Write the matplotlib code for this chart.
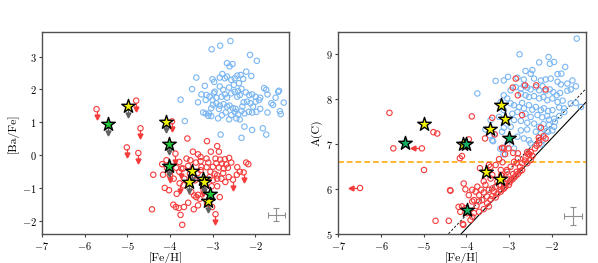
import numpy as np
import matplotlib
matplotlib.use('Agg')
import matplotlib.pyplot as plt

plt.rcParams['font.family'] = 'serif'
plt.rcParams['font.serif'] = ['cmr10', 'DejaVu Serif']
plt.rcParams['mathtext.fontset'] = 'cm'
plt.rcParams['axes.formatter.use_mathtext'] = True

# ---------------- left panel: [Ba/Fe] vs [Fe/H] ----------------
ba_blue_fe = [-2.58, -3.02, -2.82, -2.12, -1.96, -2.66, -2.60, -2.53, -3.38, -3.18, -3.48, -3.00, -2.96, -2.83,
              -2.77, -2.71, -2.66, -2.56, -2.48, -2.42, -2.34, -2.28, -2.21, -2.09, -2.38, -2.50, -2.61, -2.75,
              -2.83, -2.95, -3.14, -3.26, -3.07, -3.00, -2.91, -2.79, -2.71, -2.66, -2.56, -2.48, -2.40, -2.32,
              -2.22, -2.14, -2.07, -1.99, -1.88, -1.79, -1.74, -1.71, -1.52, -1.46, -1.33, -1.62, -1.58, -1.42,
              -1.40, -1.71, -1.88, -1.97, -2.07, -2.15, -2.25, -2.32, -2.40, -2.48, -2.52, -2.60, -2.66, -2.74,
              -2.83, -2.91, -2.99, -3.03, -3.08, -3.16, -3.10, -3.03, -2.78, -2.61, -2.56, -2.44, -2.36, -2.25,
              -2.07, -1.82, -1.74, -2.32, -2.81, -3.65, -3.75, -3.34, -2.42, -2.27, -2.19, -2.11, -1.99, -1.91,
              -2.30, -2.46, -2.69, -2.85, -3.16, -2.97, -2.36, -2.05, -2.87, -3.22, -1.44]
ba_blue = [3.47, 3.22, 3.33, 3.05, 2.87, 2.80, 2.70, 2.77, 2.36, 2.11, 2.01, 2.31, 2.23, 2.36,
           2.47, 2.34, 2.39, 2.29, 2.34, 2.42, 2.44, 2.32, 2.54, 2.41, 2.19, 2.14, 2.06, 1.99,
           2.09, 1.93, 1.83, 1.85, 1.78, 1.68, 1.75, 1.78, 1.85, 1.75, 1.88, 1.93, 1.95, 2.02,
           1.91, 1.83, 1.85, 1.78, 1.75, 2.04, 1.99, 1.85, 1.75, 1.93, 1.60, 1.58, 1.53, 1.34,
           1.25, 1.30, 1.41, 1.32, 1.30, 1.32, 1.27, 1.35, 1.24, 1.32, 1.43, 1.51, 1.48, 1.55,
           1.51, 1.58, 1.53, 1.43, 1.27, 1.27, 1.20, 1.19, 1.22, 1.09, 1.22, 1.12, 1.09, 0.87,
           0.77, 0.82, 0.63, 0.53, 0.63, 1.04, 1.69, 1.61, 1.78, 1.61, 1.63, 1.58, 1.63, 1.68,
           1.48, 1.41, 1.30, 1.41, 1.68, 1.88, 1.83, 1.48, 1.12, 1.30, 1.96]

ba_red_fe = [-3.59, -3.13, -2.89, -3.46, -3.34, -3.28, -3.04, -2.85, -3.14, -2.93, -2.82, -2.71, -2.61, -3.39,
             -3.28, -3.10, -2.91, -2.78, -2.68, -2.56, -4.39, -4.18, -4.07, -3.85, -3.57, -3.14, -2.99, -2.85,
             -2.74, -2.64, -2.42, -2.21, -2.16, -4.16, -4.00, -3.91, -3.66, -3.35, -3.28, -3.05, -2.95, -2.89,
             -2.75, -2.62, -2.43, -2.36, -3.68, -3.41, -2.99, -2.89, -2.79, -2.70, -4.12, -4.02, -3.84, -3.50,
             -3.43, -3.38, -3.34, -3.30, -3.02, -2.89, -2.83, -3.21, -3.92, -3.86, -3.79, -3.67, -3.57, -3.44,
             -3.75, -4.42, -3.71, -3.53, -3.69, -3.78, -3.26, -3.07, -3.18, -3.61, -3.78, -3.52, -4.08, -3.13,
             -3.34, -3.01]
ba_red = [0.51, 0.43, 0.28, 0.11, 0.03, -0.05, 0.11, 0.11, -0.10, -0.10, -0.13, -0.12, -0.08, -0.22,
          -0.18, -0.22, -0.24, -0.25, -0.28, -0.22, -0.59, -0.27, -0.38, -0.38, -0.32, -0.36, -0.35, -0.37,
          -0.40, -0.38, -0.36, -0.22, -0.27, -0.59, -0.61, -0.71, -0.71, -0.54, -0.45, -0.50, -0.56, -0.61,
          -0.54, -0.66, -0.59, -0.50, -0.91, -0.76, -0.76, -0.71, -0.71, -0.81, -0.99, -1.06, -1.17, -1.11,
          -1.22, -1.27, -1.20, -1.32, -0.94, -0.94, -1.27, -1.06, -1.50, -1.57, -1.60, -1.57, -1.44, -1.64,
          -1.81, -1.64, -2.11, -0.56, -0.40, -0.50, -0.35, -0.66, -0.81, -0.10, -0.20, -0.15, -0.15, -1.47,
          -1.52, -1.57]

# red upper limits on [Ba/Fe]
ba_lim_fe = [-5.72, -4.79, -4.69, -5.01, -4.74, -3.95, -3.87, -3.99, -3.73, -3.77, -2.93, -2.27, -2.52, -3.22]
ba_lim = [1.40, 1.66, 0.82, 0.24, 0.07, 1.03, 0.05, -0.50, -0.40, -0.85, -1.79, -0.52, -0.74, -0.92]

# stars (upper limits on Ba)
ba_star_y_fe = [-4.98, -4.10, -3.49, -3.56, -3.22, -3.21, -3.11]
ba_star_y = [1.49, 1.02, -0.48, -0.81, -0.71, -0.82, -1.40]
ba_star_g_fe = [-5.45, -4.02, -4.03, -3.05]
ba_star_g = [0.95, 0.35, -0.31, -1.16]

# ---------------- right panel: A(C) vs [Fe/H] ----------------
c_blue_fe = [-1.41, -2.75, -2.07, -2.29, -2.04, -1.94, -1.68, -1.86, -1.77, -3.02, -2.80, -2.61, -2.49, -2.45,
             -2.65, -2.41, -2.25, -2.14, -2.02, -1.86, -1.78, -1.63, -1.51, -1.43, -3.31, -3.12, -3.74, -3.12,
             -2.96, -2.84, -2.72, -2.65, -2.57, -2.49, -2.37, -2.29, -2.21, -2.14, -2.04, -1.96, -1.88, -1.80,
             -1.63, -1.55, -2.72, -2.61, -2.53, -2.41, -2.29, -2.19, -2.10, -1.98, -1.86, -1.74, -1.55, -1.43,
             -1.31, -2.96, -2.88, -2.76, -2.69, -2.65, -2.53, -2.45, -2.37, -2.25, -2.18, -2.08, -1.98, -1.82,
             -1.71, -3.12, -2.92, -2.80, -2.61, -2.49, -2.33, -2.22, -2.10, -2.06, -1.94, -1.82, -3.05, -2.88,
             -2.72, -2.57, -2.41, -2.29, -2.19, -2.06, -1.94, -1.98, -2.08, -2.25, -2.37, -2.72, -2.57, -2.96,
             -3.12, -3.39, -3.34, -3.16, -2.80, -2.65, -2.53, -2.49, -2.88, -3.04, -3.55, -2.24, -2.21, -3.43,
             -3.23, -3.19, -3.04, -1.70, -1.92, -2.11, -3.45, -3.37, -3.13, -3.20]
c_blue = [9.35, 9.00, 8.94, 8.82, 8.79, 8.83, 8.72, 8.56, 8.57, 8.50, 8.48, 8.63, 8.57, 8.65,
          8.44, 8.46, 8.42, 8.44, 8.46, 8.39, 8.33, 8.35, 8.42, 8.29, 8.41, 8.42, 8.13, 8.09,
          8.20, 8.27, 8.24, 8.31, 8.26, 8.22, 8.27, 8.20, 8.29, 8.18, 8.22, 8.16, 8.09, 8.14,
          8.19, 8.22, 8.13, 8.09, 8.05, 8.07, 8.02, 8.05, 7.98, 8.02, 7.94, 7.97, 7.91, 7.92,
          7.83, 7.91, 7.87, 7.83, 7.92, 7.80, 7.87, 7.77, 7.83, 7.76, 7.80, 7.74, 7.76, 7.82,
          7.80, 7.76, 7.68, 7.72, 7.68, 7.61, 7.65, 7.60, 7.63, 7.55, 7.57, 7.63, 7.55, 7.54,
          7.52, 7.48, 7.46, 7.39, 7.45, 7.43, 7.39, 7.31, 7.28, 7.24, 7.28, 7.31, 7.33, 7.39,
          7.37, 7.09, 7.23, 7.28, 7.17, 7.13, 7.09, 7.02, 6.91, 7.00, 7.33, 7.00, 7.09, 7.54,
          7.61, 7.94, 8.02, 7.72, 7.50, 7.30, 7.20, 7.07, 6.78, 6.90]

c_red_fe = [-5.80, -5.71, -4.77, -4.68, -4.99, -4.38, -4.72, -4.41, -4.18, -4.06, -4.02, -4.08,
            -3.94, -3.56, -4.10, -4.15, -3.12, -3.01, -3.09, -2.90, -2.79, -3.23, -3.15, -2.74, -2.69,
            -2.55, -2.49, -2.35, -2.29, -2.14, -2.19, -3.68, -3.31, -3.43, -3.47, -3.39, -3.59, -3.19,
            -3.05, -2.96, -2.88, -2.82, -2.79, -2.63, -2.57, -2.49, -2.90, -2.82, -2.74, -3.04, -2.96,
            -3.12, -3.23, -3.31, -3.39, -3.47, -3.35, -3.19, -3.12, -3.00, -2.92, -2.84, -2.79, -2.88,
            -2.98, -3.08, -3.27, -3.39, -3.51, -3.59, -3.65, -3.78, -3.86, -3.74, -4.37, -3.82, -3.70,
            -3.63, -3.51, -3.47, -3.59, -3.70, -3.82, -3.86, -3.90, -4.07, -3.86, -3.76, -4.02, -4.10,
            -3.43, -3.31, -3.19, -3.12, -3.27, -3.16, -2.69, -2.61, -2.45, -2.39, -2.29, -3.18, -3.04,
            -3.43, -3.55, -3.94, -4.14, -3.98, -3.70, -2.84, -2.91, -2.79, -2.62, -2.36, -2.14, -2.69,
            -3.87, -3.39, -3.33, -3.16, -2.25, -2.30, -2.57, -2.52]
c_red = [7.70, 6.91, 7.27, 7.24, 6.43, 5.98, 5.30, 5.30, 5.61, 6.13, 6.00, 5.23,
         7.11, 7.13, 6.74, 6.69, 6.92, 6.91, 6.78, 6.81, 6.80, 6.67, 6.60, 6.50, 6.43,
         6.78, 6.83, 6.97, 7.02, 7.13, 7.18, 6.47, 6.54, 6.50, 6.54, 6.32, 6.18, 6.43,
         6.43, 6.50, 6.61, 6.58, 6.69, 6.64, 6.58, 6.65, 6.34, 6.39, 6.40, 6.24, 6.21,
         6.13, 6.10, 6.06, 6.02, 5.99, 5.95, 5.99, 6.02, 6.10, 6.22, 6.30, 6.34, 6.26,
         6.16, 6.06, 5.90, 5.85, 5.84, 5.93, 5.99, 5.95, 5.99, 6.06, 5.97, 5.76, 5.73,
         5.76, 5.69, 5.62, 5.56, 5.50, 5.47, 5.39, 5.32, 5.21, 5.73, 5.63, 5.58, 5.62,
         5.78, 5.82, 5.95, 6.02, 6.17, 6.30, 6.58, 6.71, 6.74, 6.91, 7.09, 6.32, 6.39,
         6.24, 6.10, 5.87, 5.50, 5.47, 5.87, 8.46, 8.26, 8.09, 8.31, 8.31, 8.22, 7.65,
         7.62, 7.59, 7.22, 6.92, 7.37, 7.15, 6.83, 6.78]

# red upper limits on [Fe/H]
c_lim_fe = [-5.04, -6.49]
c_lim = [6.91, 6.03]

c_star_y_fe = [-4.98, -4.08, -3.45, -3.19, -3.09, -3.54, -3.20]
c_star_y = [7.45, 7.00, 7.35, 7.87, 7.57, 6.39, 6.23]
c_star_g_fe = [-5.43, -4.00, -3.00, -3.98]
c_star_g = [7.03, 7.00, 7.13, 5.55]

blue = '#7ab6f2'
red = '#f53b3b'
yellow = '#f2f200'
green_l = '#22c93a'
green_r = '#10b060'

fig = plt.figure(figsize=(5.98, 2.63), dpi=100)
ax1 = fig.add_axes([0.0702, 0.109, 0.4135, 0.770])
ax2 = fig.add_axes([0.5657, 0.109, 0.4137, 0.770])

circ = dict(s=15, facecolors='none', linewidths=0.8)
star = dict(marker='*', s=105, edgecolors='black', linewidths=1.0, zorder=4)

# left
ax1.scatter(ba_blue_fe, ba_blue, edgecolors=blue, zorder=2, **circ)
ax1.scatter(ba_red_fe, ba_red, edgecolors=red, zorder=2, **circ)
ax1.scatter(ba_lim_fe, ba_lim, edgecolors=red, zorder=2, **circ)
for x, y in zip(ba_lim_fe, ba_lim):
    ax1.plot([x, x], [y - 0.06, y - 0.22], color=red, lw=0.9, zorder=2)
    ax1.plot(x, y - 0.24, marker='v', ms=3.5, color=red, mec=red, zorder=2)
for x, y in zip(ba_star_y_fe + ba_star_g_fe, ba_star_y + ba_star_g):
    ax1.plot([x, x], [y, y - 0.22], color='#606060', lw=0.9, zorder=3)
    ax1.plot(x, y - 0.26, marker='v', ms=3.5, color='#606060', zorder=3)
ax1.scatter(ba_star_y_fe, ba_star_y, c=yellow, **star)
ax1.scatter(ba_star_g_fe, ba_star_g, c=green_l, **star)
ax1.errorbar([-1.5], [-1.8], xerr=0.21, yerr=0.21, color='#909090', lw=0.8, capsize=2, capthick=0.8)

ax1.set_xlim(-7, -1.2)
ax1.set_ylim(-2.4, 3.75)
ax1.set_xticks([-7, -6, -5, -4, -3, -2])
ax1.set_yticks([-2, -1, 0, 1, 2, 3])
ax1.set_xlabel('[Fe/H]', fontsize=8.5, labelpad=0)
ax1.set_ylabel('[Ba/Fe]', fontsize=8.5, labelpad=2)

# right
fe_line = np.array([-7, -1.2])
ax2.plot(fe_line, fe_line + 9.13, color='black', lw=0.8, zorder=1)
ax2.plot(fe_line, fe_line + 9.43, color='black', lw=0.6, ls=(0, (3, 2)), zorder=1)
ax2.axhline(6.6, color='#ffb733', lw=1.4, ls=(0, (3, 1.5)), zorder=1)
ax2.scatter(c_blue_fe, c_blue, edgecolors=blue, zorder=2, **circ)
ax2.scatter(c_red_fe, c_red, edgecolors=red, zorder=2, **circ)
ax2.scatter(c_lim_fe, c_lim, edgecolors=red, zorder=2, **circ)
for x, y in zip(c_lim_fe, c_lim):
    ax2.plot([x - 0.06, x - 0.18], [y, y], color=red, lw=0.9, zorder=2)
    ax2.plot(x - 0.21, y, marker='<', ms=3.5, color=red, mec=red, zorder=2)
ax2.scatter(c_star_y_fe, c_star_y, c=yellow, **star)
ax2.scatter(c_star_g_fe, c_star_g, c=green_r, **star)
ax2.errorbar([-1.49], [5.4], xerr=0.21, yerr=0.2, color='#909090', lw=0.8, capsize=2, capthick=0.8)

ax2.set_xlim(-7, -1.2)
ax2.set_ylim(5, 9.5)
ax2.set_xticks([-7, -6, -5, -4, -3, -2])
ax2.set_yticks([5, 6, 7, 8, 9])
ax2.set_xlabel('[Fe/H]', fontsize=8.5, labelpad=0)
ax2.set_ylabel('A(C)', fontsize=8.5, labelpad=2)

for ax in (ax1, ax2):
    ax.tick_params(labelsize=7.5, length=2.5, width=0.8, color='#404040', pad=1.5)
    for sp in ax.spines.values():
        sp.set_color('#505050')
        sp.set_linewidth(1.0)

fig.savefig('out.png', dpi=100)
